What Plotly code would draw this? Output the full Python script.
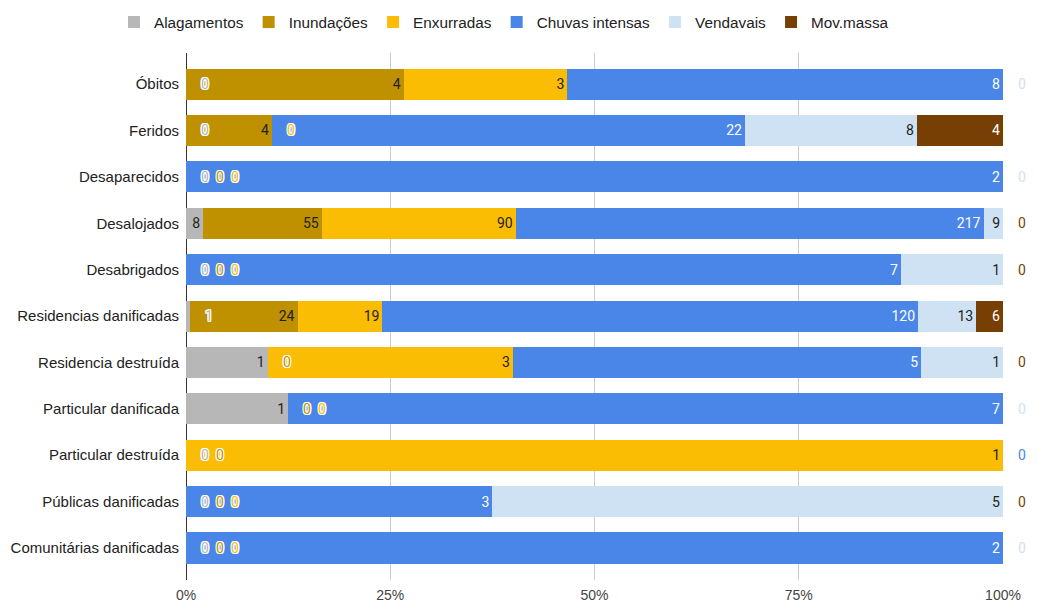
import plotly.graph_objects as go

categories = ["Óbitos", "Feridos", "Desaparecidos", "Desalojados", "Desabrigados",
              "Residencias danificadas", "Residencia destruída", "Particular danificada",
              "Particular destruída", "Públicas danificadas", "Comunitárias danificadas"]
series_names = ["Alagamentos", "Inundações", "Enxurradas", "Chuvas intensas", "Vendavais", "Mov.massa"]
alagamentos = [0, 0, 0, 8, 0, 1, 1, 1, 0, 0, 0]
inundacoes = [4, 4, 0, 55, 0, 24, 0, 0, 0, 0, 0]
enxurradas = [3, 0, 0, 90, 0, 19, 3, 0, 1, 0, 0]
chuvas_intensas = [8, 22, 2, 217, 7, 120, 5, 7, 0, 3, 2]
vendavais = [0, 8, 0, 9, 1, 13, 1, 0, 0, 5, 0]
mov_massa = [0, 4, 0, 0, 0, 6, 0, 0, 0, 0, 0]
tick_values = [0, 25, 50, 75, 100]
tick_labels = ["0%", "25%", "50%", "75%", "100%"]

series_values = [alagamentos, inundacoes, enxurradas, chuvas_intensas, vendavais, mov_massa]
colors = ["#b7b7b7", "#bf9000", "#fbbc04", "#4a86e8", "#cfe2f3", "#783f04"]
label_colors = ["#222222", "#222222", "#222222", "#ffffff", "#222222", "#ffffff"]

# the page body has an 8px default margin, so the figure is offset by 8px;
# the figure runs a little past the window's right edge, as the reference's labels do
W, H = 1045, 594
ML, MR, MT, MB = 178, 50, 45, 22
plot_w = W - ML - MR

totals = [sum(s[i] for s in series_values) for i in range(len(categories))]
pcts = [[v / totals[i] * 100 for i, v in enumerate(s)] for s in series_values]

halo_c = "#ffffff"
halo = ", ".join(f"{dx}px {dy}px 0 {halo_c}" for dx, dy in
                 [(1, 0), (-1, 0), (0, 1), (0, -1), (1, 1), (-1, -1), (1, -1), (-1, 1)])

fig = go.Figure()
annotations = []
out_counts = {}
cum = [0.0] * len(categories)
for j, name in enumerate(series_names):
    texts = []
    for i, cat in enumerate(categories):
        v = series_values[j][i]
        p = pcts[j][i]
        end = cum[i] + p
        width_px = p / 100 * plot_w
        need = len(str(v)) * 8.5 + 6
        if v != 0 and width_px >= need:
            texts.append(str(v))
        else:
            texts.append("")
            key = (i, round(end, 6))
            k = out_counts.get(key, 0)
            out_counts[key] = k + 1
            annotations.append(dict(
                x=end, y=cat, xref="x", yref="y", text=str(v), showarrow=False,
                xanchor="center", yanchor="middle", xshift=19 + 15 * k,
                font=dict(family="Roboto, Arial, sans-serif", size=14, color=colors[j], shadow=halo),
            ))
        cum[i] = end
    fig.add_trace(go.Bar(
        y=categories, x=pcts[j], name=name, orientation="h",
        marker=dict(color=colors[j], line=dict(width=0)),
        text=texts, textposition="inside", insidetextanchor="end",
        textangle=0, constraintext="none",
        textfont=dict(family="Roboto, Arial, sans-serif", size=14, color=label_colors[j]),
        hoverinfo="skip",
    ))

fig.update_layout(
    width=W, height=H,
    barmode="stack", bargap=0.33,
    margin=dict(l=ML, r=MR, t=MT, b=MB, autoexpand=False),
    paper_bgcolor="white", plot_bgcolor="white",
    font=dict(family="Liberation Sans, Arial, sans-serif", size=15, color="#222222"),
    legend=dict(orientation="h", xref="container", yref="container",
                x=106 / W, xanchor="left", y=1 - 14 / H, yanchor="middle",
                font=dict(size=15.3, color="#222222"), traceorder="normal",
                bgcolor="rgba(0,0,0,0)"),
    annotations=annotations,
    uniformtext=dict(minsize=14, mode="show"),
)
fig.update_xaxes(
    range=[0, 100], tickvals=tick_values, ticktext=tick_labels,
    showgrid=True, gridcolor="#cccccc", gridwidth=1,
    zeroline=True, zerolinecolor="#333333", zerolinewidth=1,
    showline=False, ticks="", ticklabelstandoff=5,
    tickfont=dict(size=14, color="#444444"), fixedrange=True,
)
fig.update_yaxes(
    categoryorder="array", categoryarray=categories,
    range=[len(categories) - 1 + 0.69, -0.67],
    showgrid=False, zeroline=False, showline=False, ticks="",
    ticklabelstandoff=6, tickfont=dict(size=15, color="#222222"), fixedrange=True,
)

fig.write_html("out.html")
